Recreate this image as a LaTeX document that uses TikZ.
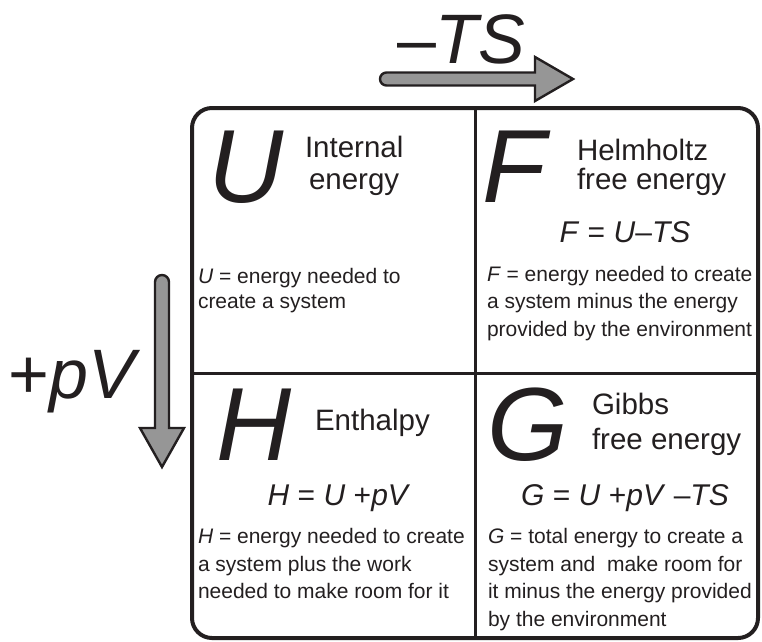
\documentclass[tikz,border=0pt]{standalone}
\usepackage{fontspec}
\setmainfont{Liberation Sans}
\definecolor{arrowgray}{HTML}{969696}
\definecolor{ink}{HTML}{231F20}
\begin{document}
\begin{tikzpicture}[x=1pt,y=-1pt,
  every node/.style={inner sep=0pt,outer sep=0pt,text=ink},
  bigletter/.style={anchor=base west,font=\fontsize{104}{104}\selectfont\itshape},
  title/.style={anchor=base west,font=\fontsize{29.5}{30}\selectfont},
  eqn/.style={anchor=base,font=\fontsize{30}{30}\selectfont},
  desc/.style={anchor=base west,font=\fontsize{21}{22}\selectfont},
  axislabel/.style={anchor=base west,font=\fontsize{70}{70}\selectfont},
  fatarrow/.style={draw=ink,fill=arrowgray,line width=2.4pt,line join=miter},
  frame/.style={draw=ink,line width=4pt,rounded corners=20pt},
  divider/.style={draw=ink,line width=3pt}]
\useasboundingbox (0,0) rectangle (762,641);

% outer frame and dividers
\draw[frame] (192,108) rectangle (758,638);
\draw[divider] (475,108) -- (475,638);
\draw[divider] (192,373) -- (758,373);

% -TS arrow
\path[fatarrow] (386.5,72.5) -- (535,72.5) -- (535,57) -- (573,79) -- (535,101)
  -- (535,85.5) -- (386.5,85.5) arc[start angle=270,end angle=90,radius=6.5pt] -- cycle;
\node[axislabel] (ts) at (397,63) {–\textit{TS}};

% +pV arrow
\path[fatarrow] (155,282) arc[start angle=180,end angle=0,radius=7pt] -- (169,428)
  -- (184,428) -- (162,467) -- (140,428) -- (155,428) -- cycle;
\node[axislabel] (pv) at (9,398) {+\textit{pV}};

% U cell
\node[bigletter] (U) at (208,202) {U};
\node[title] (Ut1) at (305,157) {Internal};
\node[title] (Ut2) at (309,189) {energy};
\node[desc] (Ud1) at (198,283) {\textit{U} = energy needed to};
\node[desc] (Ud2) at (198,308) {create a system};

% F cell
\node[bigletter] (F) at (482,202) {F};
\node[title] (Ft1) at (577,160) {Helmholtz};
\node[title] (Ft2) at (577,189) {free energy};
\node[eqn] (Fe) at (625,242) {\textit{F} = \textit{U}–\textit{TS}};
\node[desc] (Fd1) at (487,281) {\textit{F} = energy needed to create};
\node[desc] (Fd2) at (487,308) {a system minus the energy};
\node[desc] (Fd3) at (487,336) {provided by the environment};

% H cell
\node[bigletter] (H) at (216,460) {H};
\node[title] (Ht1) at (315,430) {Enthalpy};
\node[eqn] (He) at (339,505) {\textit{H} = \textit{U} +\textit{pV}};
\node[desc] (Hd1) at (198,543) {\textit{H} = energy needed to create};
\node[desc] (Hd2) at (198,571) {a system plus the work};
\node[desc] (Hd3) at (198,598) {needed to make room for it};

% G cell
\node[bigletter] (G) at (487,460) {G};
\node[title] (Gt1) at (592,414) {Gibbs};
\node[title] (Gt2) at (592,449) {free energy};
\node[eqn] (Ge) at (625,505) {\textit{G} = \textit{U} +\textit{pV} –\textit{TS}};
\node[desc] (Gd1) at (488,543) {\textit{G} = total energy to create a};
\node[desc] (Gd2) at (488,571) {system and\ \ make room for};
\node[desc] (Gd3) at (488,598) {it minus the energy provided};
\node[desc] (Gd4) at (488,626) {by the environment};
\end{tikzpicture}
\end{document}
